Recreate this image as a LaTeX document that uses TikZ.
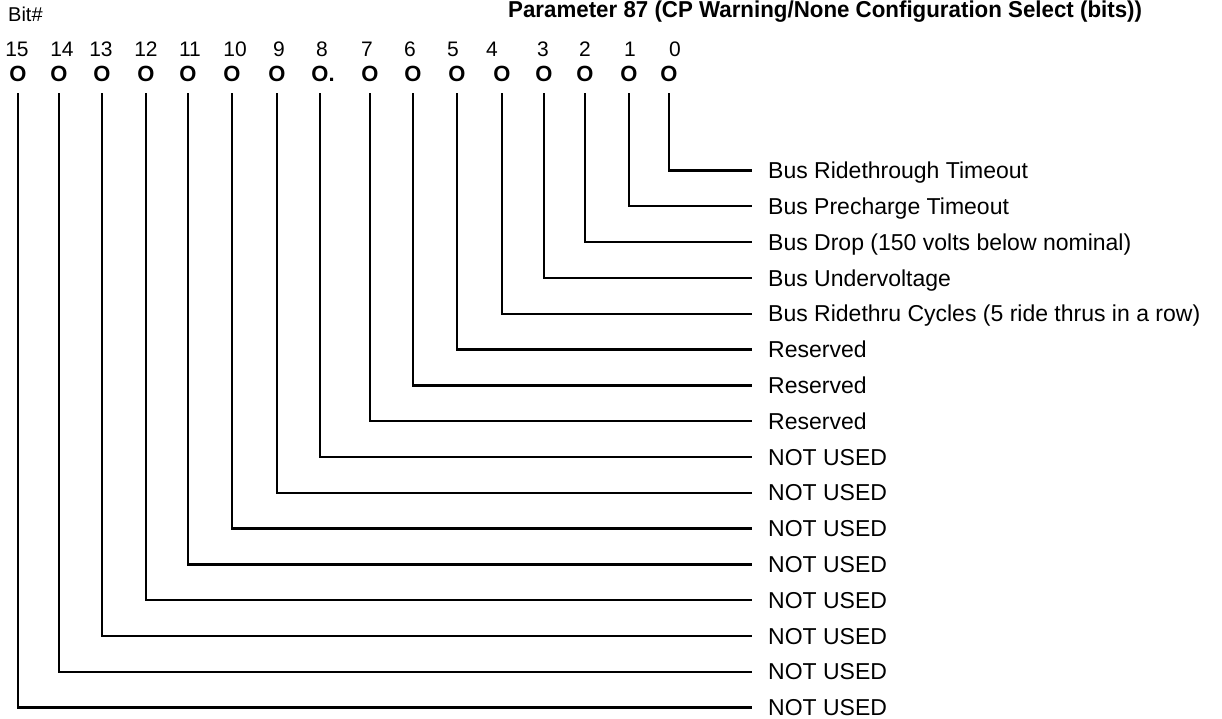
\documentclass[tikz,border=0pt]{standalone}
\usepackage{fontspec}
\setmainfont{Liberation Sans}
\newfontfamily\titlefont{Liberation Sans}[FakeStretch=0.97]
\begin{document}
\begin{tikzpicture}[x=1pt,y=-1pt,
  bitnum/.style={inner sep=0pt, anchor=base, font=\fontsize{21}{21}\selectfont},
  bito/.style={inner sep=0pt, anchor=base, font=\fontsize{22}{22}\selectfont\bfseries},
  lbl/.style={inner sep=0pt, anchor=west, text height=16.5pt, text depth=0pt, font=\fontsize{23}{23}\selectfont},
  wire/.style={line width=2.4pt, shorten <=11pt, shorten >=16pt}]
\useasboundingbox (0,0) rectangle (1222,719);
\node[inner sep=0pt, anchor=base west, font=\fontsize{20}{20}\selectfont] (bit) at (8,22) {Bit\#};
\node[inner sep=0pt, anchor=base west, font=\fontsize{23}{23}\selectfont\titlefont\bfseries] (title) at (508,18)
  {Parameter 87 (CP Warning/None Configuration Select (bits))};
% bit, line x, number x, label
\foreach \b/\xl/\xn/\t in {
  0/669/675/{Bus Ridethrough Timeout},
  1/629/630/{Bus Precharge Timeout},
  2/585/585/{Bus Drop (150 volts below nominal)},
  3/544/543/{Bus Undervoltage},
  4/502/492/{Bus Ridethru Cycles (5 ride thrus in a row)},
  5/457/453/{Reserved},
  6/413/410/{Reserved},
  7/370/367/{Reserved},
  8/320/322/{NOT USED},
  9/277/279/{NOT USED},
  10/232/235/{NOT USED},
  11/188/190/{NOT USED},
  12/146/146/{NOT USED},
  13/102/101/{NOT USED},
  14/59/62/{NOT USED},
  15/18/17/{NOT USED}} {
  \pgfmathsetmacro{\yy}{170.5+35.8*\b}
  \node[bitnum] (n\b) at (\xn,57) {\b};
  \ifnum\b=8
    \node[bito] (o\b) at (\xl,82) {O\rlap{.}};
  \else
    \node[bito] (o\b) at (\xl,82) {O};
  \fi
  \node[lbl] (l\b) at (768,\yy) {\t};
  \draw[wire] (o\b.south) |- (l\b.west);
}
\end{tikzpicture}
\end{document}
